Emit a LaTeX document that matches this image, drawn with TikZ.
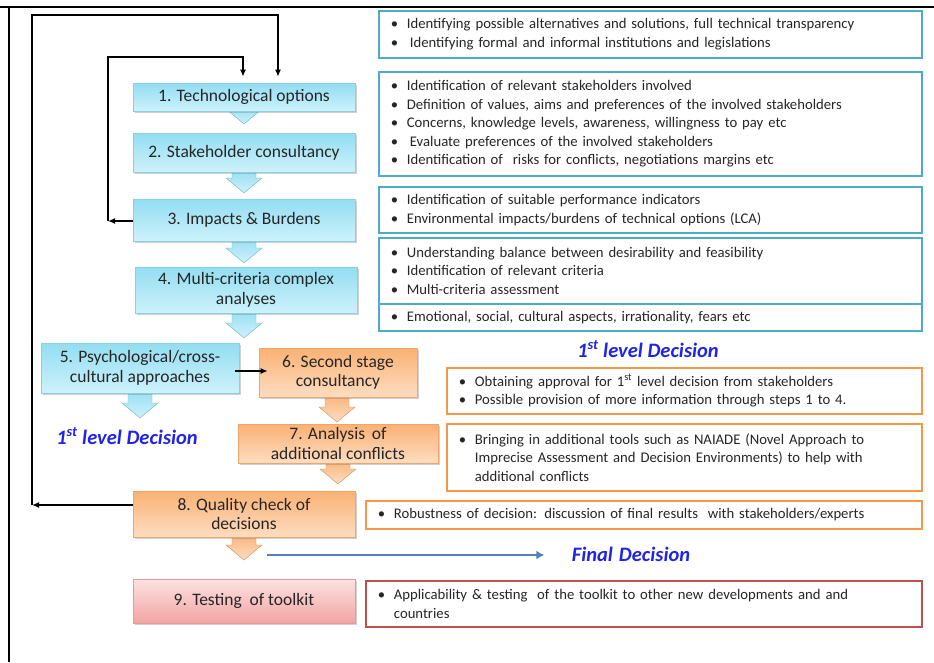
\documentclass[tikz,border=0pt]{standalone}
\usepackage{fontspec}
\setmainfont{Carlito}
\usetikzlibrary{arrows.meta,shadows}

\definecolor{txt}{HTML}{262626}
\definecolor{btop}{HTML}{93DDF2}
\definecolor{bbot}{HTML}{CDF2FB}
\definecolor{bbord}{HTML}{8ACFE4}
\definecolor{otop}{HTML}{FAB173}
\definecolor{obot}{HTML}{FDDDC2}
\definecolor{obord}{HTML}{F0A56A}
\definecolor{rtop}{HTML}{FDE2E2}
\definecolor{rbot}{HTML}{F3A3A3}
\definecolor{rbord}{HTML}{E49A9A}
\definecolor{tealline}{HTML}{4BACC6}
\definecolor{orangeline}{HTML}{F79646}
\definecolor{redline}{HTML}{C0504D}
\definecolor{steel}{HTML}{4F81BD}
\definecolor{decblue}{HTML}{1F24E6}

\newcommand{\bitem}[1]{\makebox[16pt][l]{•}#1}
\newcommand{\bcont}[1]{\hspace*{16pt}#1}

\tikzset{
  stagebox/.style n args={3}{rectangle, draw=#3, line width=0.6pt,
    top color=#1, bottom color=#2, text=txt, align=center, inner sep=2pt,
    font=\fontsize{17.5}{19.5}\selectfont,
    drop shadow={shadow xshift=2pt, shadow yshift=-2pt, opacity=0.3, fill=black!60}},
  bluestage/.style={stagebox={btop}{bbot}{bbord}},
  orangestage/.style={stagebox={otop}{obot}{obord}},
  redstage/.style={stagebox={rtop}{rbot}{rbord}},
  infobox/.style 2 args={rectangle, draw=#1, line width=1.8pt, fill=white,
    anchor=north west, text width=#2, inner xsep=12pt, inner ysep=2pt,
    align=left, text=txt, font=\fontsize{14.7}{18.6}\selectfont},
  declabel/.style={text=decblue, font=\fontsize{20.5}{22}\selectfont\bfseries\itshape},
  loop/.style={draw=black, line width=1.6pt},
  looparrow/.style={loop, -{Latex[length=7pt,width=6pt]}},
  framepen/.style={draw=black, line width=2.4pt},
}

% downward block arrow between two stages
\newcommand{\chev}[5]{% x, top, tip, fill top, fill bottom
  \pgfmathsetmacro{\hy}{#3-15}
  \shade[top color=#4, bottom color=#5, draw=#4!80!black, line width=0.4pt]
    (#1-12,#2) -- (#1+12,#2) -- (#1+12,\hy) -- (#1+18,\hy) -- (#1,#3)
    -- (#1-18,\hy) -- (#1-12,\hy) -- cycle;
}

\begin{document}
\begin{tikzpicture}[x=1pt,y=-1pt]
\useasboundingbox (0,0) rectangle (934,662);

% outer frame lines
\draw[framepen] (0,7) -- (934,7);
\draw[framepen] (9,7) -- (9,662);

% block arrows under the stages
\chev{244}{105}{124}{btop}{bbot}
\chev{244}{168}{193}{btop}{bbot}
\chev{244}{236}{263}{btop}{bbot}
\chev{244}{308}{338}{btop}{bbot}
\chev{140}{388}{418}{btop}{bbot}
\chev{337}{392}{422}{otop}{obot}
\chev{338}{458}{484}{otop}{obot}
\chev{244}{532}{560}{otop}{obot}

% stages
\node[bluestage, minimum width=222pt, minimum height=28pt] (b1) at (244,97) {1. Technological options};
\node[bluestage, minimum width=222pt, minimum height=39pt] (b2) at (244,152.5) {2. Stakeholder consultancy};
\node[bluestage, minimum width=222pt, minimum height=42pt] (b3) at (244,220) {3. Impacts \& Burdens};
\node[bluestage, minimum width=222pt, minimum height=46pt] (b4) at (246,290) {4. Multi-criteria complex\\analyses};
\node[bluestage, minimum width=198pt, minimum height=50pt] (b5) at (140,368) {5. Psychological/cross-\\cultural approaches};
\node[orangestage, minimum width=158pt, minimum height=49pt] (b6) at (338,372.5) {6. Second stage\\consultancy};
\node[orangestage, minimum width=200pt, minimum height=39pt] (b7) at (338,443.5) {7. Analysis\ \,of\\additional conflicts};
\node[orangestage, minimum width=222pt, minimum height=46pt] (b8) at (244,514) {8. Quality check of\\decisions};
\node[redstage, minimum width=222pt, minimum height=44pt] (b9) at (244,601) {9. Testing\ \ of toolkit};

% decision labels
\node[declabel] (d1) at (127,436) {1\textsuperscript{st} level Decision};
\node[declabel] (d2) at (648,349) {1\textsuperscript{st} level Decision};
\node[declabel] (fd) at (631,554) {Final\hspace{6pt}Decision};

% feedback loops
\coordinate (ol) at (32,505);
\coordinate (ot) at (32,15);
\coordinate (il) at (108,221);
\coordinate (it) at (108,57);
\draw[looparrow] ([yshift=9pt]b8.west) -- (ol);
\draw[looparrow] (ol) -- (ot) -| ([xshift=34pt,yshift=6pt]b1.north);
\draw[looparrow] ([yshift=-1pt]b3.west) -- (il);
\draw[looparrow] (il) -- (it) -| ([xshift=-1pt,yshift=6pt]b1.north);
\draw[looparrow] ([xshift=-4pt,yshift=-3pt]b5.east) -- ([xshift=9pt,yshift=1.5pt]b6.west);

% path to the final decision
\coordinate (fs) at (267,555);
\draw[steel, line width=2.2pt, -{Latex[length=8pt,width=9pt]}] (fs) -- ([xshift=-24pt,yshift=-1pt]fd.west);

% notes beside each stage
\node[infobox={tealline}{519pt}, minimum height=47pt] (r1) at (378,10)
  {\bitem{Identifying possible alternatives and solutions, full technical transparency}\\
   \bitem{\hspace{3pt}Identifying formal and informal institutions and legislations}};
\node[infobox={tealline}{519pt}, minimum height=104pt] (r2) at (378,71)
  {\bitem{Identification of relevant stakeholders involved}\\
   \bitem{Definition of values, aims and preferences of the involved stakeholders}\\
   \bitem{Concerns,\ knowledge levels, awareness, willingness to pay etc}\\
   \bitem{\hspace{3pt}Evaluate preferences of the involved stakeholders}\\
   \bitem{Identification of\ \ risks for conflicts, negotiations margins etc}};
\node[infobox={tealline}{519pt}, minimum height=46pt] (r3) at (378,186)
  {\bitem{Identification of suitable performance indicators}\\
   \bitem{Environmental impacts/burdens of technical options\ (LCA)}};
\node[infobox={tealline}{519pt}, minimum height=66pt] (r4) at (378,237)
  {\bitem{Understanding balance between desirability and feasibility}\\
   \bitem{Identification of relevant criteria}\\
   \bitem{Multi-criteria assessment}};
\node[infobox={tealline}{519pt}, minimum height=27pt] (r5) at (378,303)
  {\bitem{Emotional, social, cultural aspects, irrationality, fears etc}};
\node[infobox={orangeline}{451pt}, minimum height=46pt] (o1) at (446,367)
  {\bitem{Obtaining approval for 1\textsuperscript{st} level decision from stakeholders}\\
   \bitem{Possible provision\ of more information through steps 1 to 4.}};
\node[infobox={orangeline}{451pt}, minimum height=67pt] (o2) at (446,423)
  {\bitem{Bringing in additional tools such as NAIADE (Novel Approach to}\\
   \bcont{Imprecise Assessment and Decision Environments)\ to help with}\\
   \bcont{additional conflicts}};
\node[infobox={orangeline}{532pt}, minimum height=28pt] (o3) at (365,500)
  {\bitem{Robustness of decision: discussion of final results\ \ with stakeholders/experts}};
\node[infobox={redline}{532pt}, minimum height=46pt] (rr) at (365,580)
  {\bitem{Applicability \& testing\ \ of the toolkit to other new developments and and}\\
   \bcont{countries}};
\end{tikzpicture}
\end{document}
